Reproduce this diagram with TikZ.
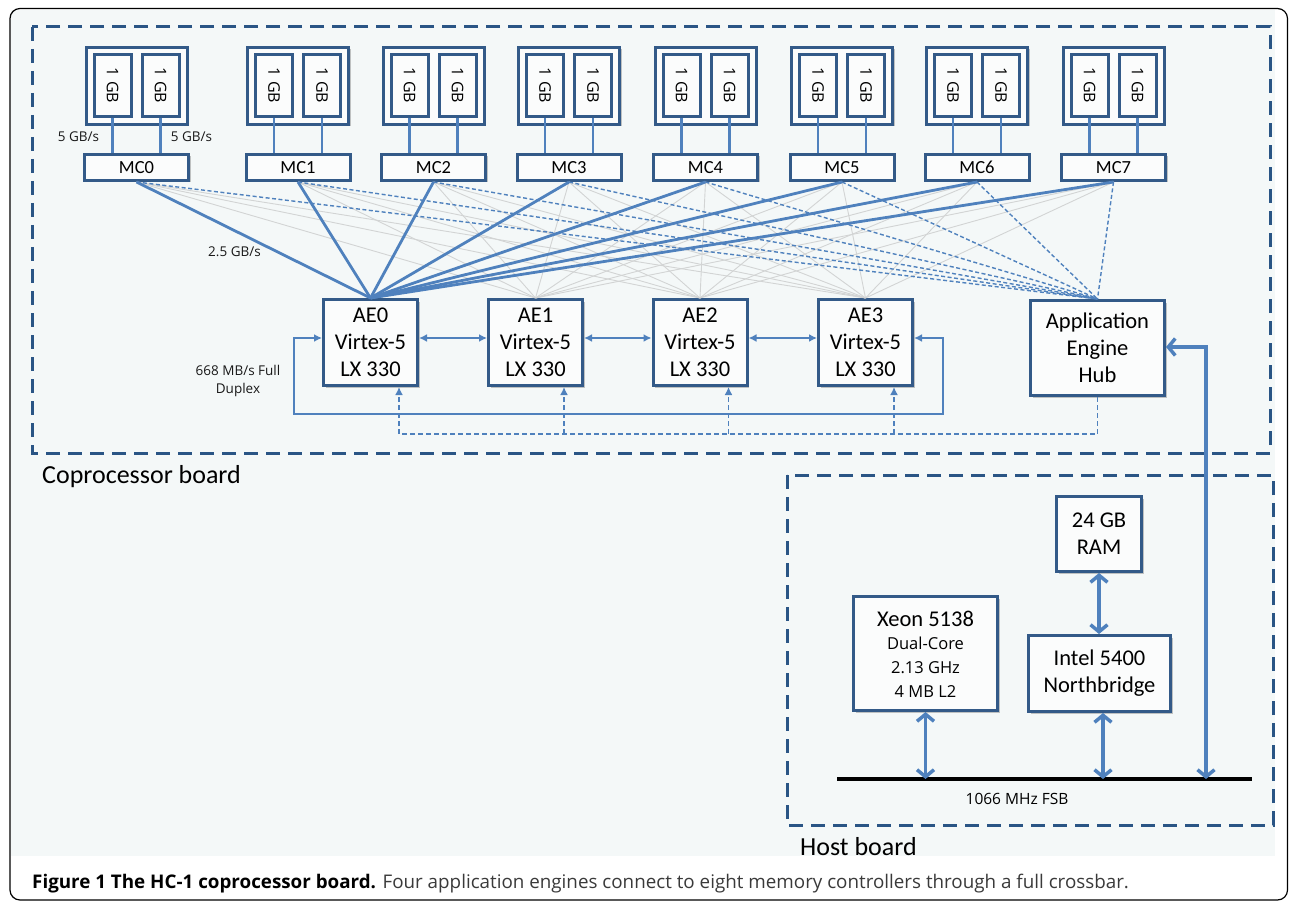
\documentclass[tikz,border=0pt]{standalone}
\usepackage{fontspec}
\usepackage{graphicx}
\setmainfont{Carlito}
\newfontfamily\osans{Open Sans}
\usetikzlibrary{arrows.meta,shadows}
\definecolor{linkblue}{HTML}{4F81BD}
\definecolor{boxblue}{HTML}{335A88}
\definecolor{dashblue}{HTML}{2A5585}
\definecolor{xgray}{HTML}{D2D4D4}
\definecolor{panel}{HTML}{F4F8F8}
\definecolor{boxfill}{HTML}{FBFCFC}
\definecolor{captxt}{HTML}{3A3A3A}
\tikzset{
  tri/.tip={Latex[length=8pt,width=8pt]},
  barb/.tip={Straight Barb[length=7pt,width=17pt]},
  frame/.style={draw=dashblue,line width=3pt,dash pattern=on 14pt off 8pt},
  blk/.style={draw=boxblue,line width=3pt,fill=boxfill,inner sep=0pt,align=center,
    drop shadow={shadow xshift=2pt,shadow yshift=-2pt,fill=black,opacity=0.22}},
  mcbox/.style={blk,minimum width=104pt,minimum height=26pt,font=\fontsize{18.5}{20}\selectfont},
  memouter/.style={blk,minimum width=101pt,minimum height=77pt},
  meminner/.style={draw=boxblue,line width=3pt,fill=boxfill,inner sep=0pt,minimum width=37pt,minimum height=62pt,font=\osans\fontsize{16}{17}\selectfont},
  aebox/.style={blk,minimum width=94pt,minimum height=86pt,font=\fontsize{22.5}{27}\selectfont},
  bigtxt/.style={font=\fontsize{22.5}{27}\selectfont},
  smalllbl/.style={font=\osans\fontsize{13.5}{17}\selectfont,text=black!90,inner sep=0pt},
  memlink/.style={draw=linkblue,line width=2.5pt},
  xg/.style={draw=xgray,line width=0.9pt},
  xdash/.style={draw=linkblue,line width=1.4pt,dash pattern=on 4pt off 2.5pt},
  xblue/.style={draw=linkblue,line width=2.8pt},
  ring/.style={draw=linkblue,line width=2.2pt},
  dring/.style={draw=linkblue,line width=1.6pt,dash pattern=on 5pt off 3pt},
  thick arrow/.style={draw=linkblue,line width=3.5pt}
}
\begin{document}
\begin{tikzpicture}[x=1pt,y=-1pt]
\useasboundingbox (0,0) rectangle (1290,901);
\fill[white] (0,0) rectangle (1290,901);
\fill[panel] (11,10) rectangle (1275,856);
\draw[black,line width=1.2pt,rounded corners=10pt] (10,8.5) rectangle (1287.5,900);
% frames
\draw[frame] (32,27) rectangle (1270,453);
\draw[frame] (787,475) rectangle (1273,825);
\node[anchor=base west,font=\fontsize{26}{30}\selectfont,inner sep=0pt] (cpl) at (42,483) {Coprocessor board};
\node[anchor=base west,font=\fontsize{26}{30}\selectfont,inner sep=0pt] (hbl) at (800,855) {Host board};
% memory controllers and modules
\foreach \i/\x in {0/136.5,1/298,2/433.5,3/569,4/705.5,5/842,6/977,7/1113.5} {
  \node[mcbox] (MC\i) at (\x,167.5) {MC\i};
  \node[memouter] (MO\i) at (\x,86) {};
  \node[meminner] (MA\i) at (\x-24,85.5) {\rotatebox{-90}{1 GB}};
  \node[meminner] (MB\i) at (\x+24,85.5) {\rotatebox{-90}{1 GB}};
  \draw[memlink] (MA\i.south) -- (MA\i.south |- MC\i.north);
  \draw[memlink] (MB\i.south) -- (MB\i.south |- MC\i.north);
}
\node[smalllbl] (l5a) at (78.5,137) {5 GB/s};
\node[smalllbl] (l5b) at (191.5,137) {5 GB/s};
% application engines
\foreach \i/\x in {0/370.5,1/535.5,2/700,3/865.5} {
  \node[aebox] (AE\i) at (\x,342.5) {AE\i\\Virtex-5\\LX 330};
}
\node[blk,minimum width=134pt,minimum height=95pt,font=\fontsize{22.5}{27}\selectfont] (hub) at (1097.5,348) {Application\\Engine\\Hub};
% crossbar
\foreach \i in {0,...,7} {
  \foreach \a in {1,2,3} { \draw[xg] (MC\i.south) -- (AE\a.north); }
}
\foreach \i in {0,...,7} { \draw[xdash] (MC\i.south) -- (hub.north); }
\foreach \i in {0,...,7} { \draw[xblue] (MC\i.south) -- (AE0.north); }
\node[smalllbl,fill=panel,inner sep=1pt] (l25) at (234.5,252) {2.5 GB/s};
% AE ring
\foreach \a/\b in {0/1,1/2,2/3} {
  \draw[ring,{tri}-{tri}] ([yshift=4.5pt]AE\a.east) -- ([yshift=4.5pt]AE\b.west);
}
\coordinate (lpL) at (294,414);
\coordinate (lpR) at (943,414);
\draw[ring,{tri}-{tri}] ([yshift=4.5pt]AE0.west) -| (lpL) -- (lpR) |- ([yshift=4.5pt]AE3.east);
\node[smalllbl,align=center,font=\osans\fontsize{13.5}{18}\selectfont] (l668) at (238,381) {668 MB/s Full\\Duplex};
% hub dashed distribution
\coordinate (dL) at (399,434);
\draw[dring] (hub.south) |- (dL);
\foreach \i in {0,1,2,3} {
  \draw[dring,-{tri}] ([xshift=28.5pt]AE\i.south |- dL) -- ([xshift=28.5pt]AE\i.south);
}
% host board
\node[blk,bigtxt,minimum width=85pt,minimum height=75pt] (ram) at (1099,534) {24 GB\\RAM};
\node[blk,minimum width=144pt,minimum height=114pt] (xeon) at (925.5,653.5) {};
\node[anchor=base,bigtxt,inner sep=0pt] (xt1) at (925.5,626) {Xeon 5138};
\node[anchor=base,align=center,font=\osans\fontsize{16.5}{24}\selectfont,inner sep=0pt] (xt2) at (925.5,697) {Dual-Core\\2.13 GHz\\4 MB L2};
\node[blk,bigtxt,minimum width=142pt,minimum height=76pt] (intel) at (1099.5,673.5) {Intel 5400\\Northbridge};
\coordinate (fsbL) at (837,779);
\coordinate (fsbR) at (1252,779);
\draw[black,line width=4pt] (fsbL) -- (fsbR);
\node[font=\osans\fontsize{15.5}{18}\selectfont,inner sep=0pt] (fsbt) at (1017,799) {1066 MHz FSB};
\draw[thick arrow,{barb}-{barb}] (ram.south) -- (ram.south |- intel.north);
\draw[thick arrow,{barb}-{barb}] (xeon.south) -- (xeon.south |- fsbL);
\draw[thick arrow,{barb}-{barb}] ([xshift=3.5pt]intel.south) -- ([xshift=3.5pt]intel.south |- fsbL);
\coordinate (fsbHub) at (1206,779);
\draw[thick arrow,{barb}-{barb}] ([yshift=1pt]hub.east) -| (fsbHub);
% caption
\node[anchor=base west,inner sep=0pt,text=captxt,font=\osans\fontsize{18.8}{22}\selectfont] (cap) at (32,888) {\textbf{\color{black}Figure 1 The HC-1 coprocessor board.} Four application engines connect to eight memory controllers through a full crossbar.};
\end{tikzpicture}
\end{document}
